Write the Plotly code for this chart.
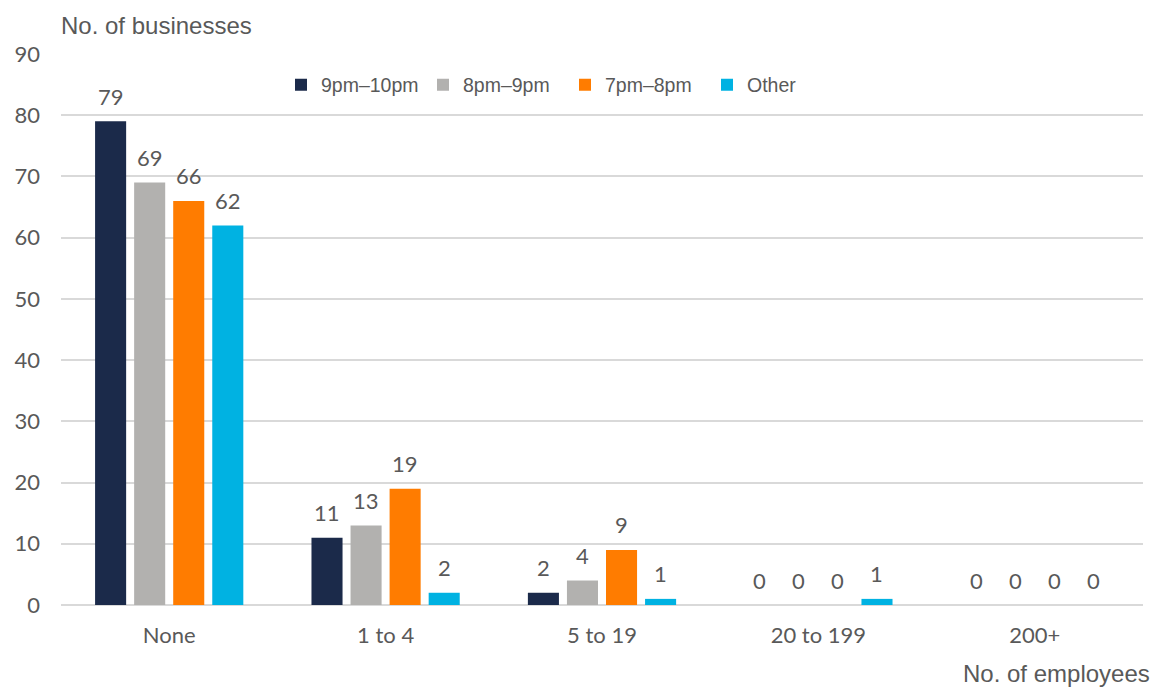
import plotly.graph_objects as go

categories = ["None", "1 to 4", "5 to 19", "20 to 199", "200+"]
series_names = ["9pm\u201310pm", "8pm\u20139pm", "7pm\u20138pm", "Other"]
s_9_10 = [79, 11, 2, 0, 0]
s_8_9 = [69, 13, 4, 0, 0]
s_7_8 = [66, 19, 9, 0, 0]
s_other = [62, 2, 1, 1, 0]
y_ticks = [0, 10, 20, 30, 40, 50, 60, 70, 80, 90]

series_values = [s_9_10, s_8_9, s_7_8, s_other]
colors = ["#1B2A4A", "#B2B1AF", "#FF7C00", "#00B2E2"]

TEXT = "#595959"
LABEL_FONT = "Lato, Open Sans, sans-serif"
TITLE_FONT = "Liberation Sans, Arial, sans-serif"
LEGEND_FONT = "Liberation Sans, Arial, sans-serif"
BARGAP = 0.278
GROUPGAP = 0.205

fig = go.Figure()
for name, vals, col in zip(series_names, series_values, colors):
    fig.add_trace(go.Bar(x=categories, y=vals, name=name, marker_color=col,
                         marker_line_width=0))

# data labels
n = len(series_values)
slot = (1 - BARGAP) / n
for j, vals in enumerate(series_values):
    for i, v in enumerate(vals):
        fig.add_annotation(x=i + (j - (n - 1) / 2) * slot, y=v, text=str(v),
                           showarrow=False, yanchor="middle", yshift=25,
                           font=dict(family=LABEL_FONT, size=22, color=TEXT))

fig.add_annotation(xref="paper", yref="paper", x=0, y=1, xanchor="left",
                   yanchor="middle", yshift=29, xshift=-2, text="No. of businesses",
                   showarrow=False, font=dict(family=TITLE_FONT, size=24, color=TEXT))
fig.add_annotation(xref="paper", yref="paper", x=1, y=0, xanchor="right",
                   yanchor="middle", xshift=9, yshift=-68, text="No. of employees",
                   showarrow=False, font=dict(family=TITLE_FONT, size=24, color=TEXT))

fig.update_layout(
    width=1155, height=687,
    margin=dict(l=61, r=12, t=54, b=82),
    paper_bgcolor="white", plot_bgcolor="white",
    barmode="group", bargap=BARGAP, bargroupgap=GROUPGAP,
    showlegend=True,
    legend=dict(orientation="h", x=(281 - 61) / 1082, xanchor="left",
                y=(605 - 85) / 551, yanchor="middle",
                font=dict(family=LEGEND_FONT, size=19.5, color=TEXT),
                entrywidth=97, entrywidthmode="pixels",
                bgcolor="rgba(0,0,0,0)", itemclick=False),
    xaxis=dict(type="category", showgrid=False, showline=False, zeroline=False,
               ticks="", tickfont=dict(family=LABEL_FONT, size=22, color=TEXT),
               ticklabelstandoff=15),
    yaxis=dict(range=[0, 90], tickvals=y_ticks, showgrid=True,
               gridcolor="#D9D9D9", gridwidth=2, zeroline=True,
               zerolinecolor="#D9D9D9", zerolinewidth=2, showline=False,
               ticks="", tickfont=dict(family=LABEL_FONT, size=22, color=TEXT),
               ticklabelstandoff=20),
)

fig.write_html("out.html")
